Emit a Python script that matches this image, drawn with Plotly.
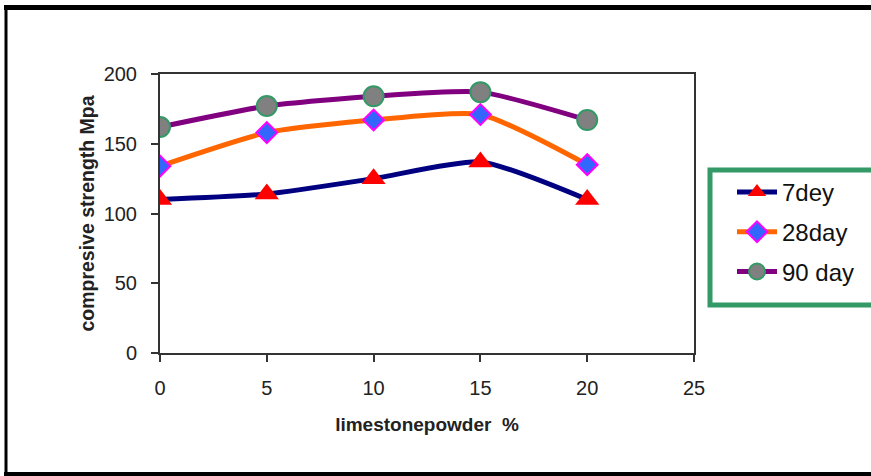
import plotly.graph_objects as go

limestone_pct = [0, 5, 10, 15, 20]
strength_7day = [110, 114, 125, 137, 110]
strength_28day = [134, 158, 167, 171, 135]
strength_90day = [162, 177, 184, 187, 167]
series_names = ["7dey", "28day", "90 day"]
x_ticks = [0, 5, 10, 15, 20, 25]
y_ticks = [0, 50, 100, 150, 200]

# plot area in screen pixels
PL, PR, PT, PB = 160, 694, 74, 353
W, H = 871, 476


def px_x(v):
    return (v - PL) / (PR - PL)


def px_y(v):
    return (PB - v) / (PB - PT)


FONT = "Liberation Sans, Arial"

fig = go.Figure()
fig.add_trace(go.Scatter(
    x=limestone_pct, y=strength_7day, name=series_names[0], mode="lines+markers",
    legendgroup="a",
    line=dict(color="#000080", width=5, shape="spline", smoothing=0.6),
    marker=dict(symbol="triangle-up", size=21, color="#FF0000", line=dict(width=0))))
fig.add_trace(go.Scatter(
    x=limestone_pct, y=strength_28day, name=series_names[1], mode="lines+markers",
    legendgroup="b",
    line=dict(color="#FF6600", width=5, shape="spline", smoothing=0.6),
    marker=dict(symbol="diamond", size=16, color="#3366FF", line=dict(width=2, color="#FF00FF"))))
fig.add_trace(go.Scatter(
    x=limestone_pct, y=strength_90day, name=series_names[2], mode="lines+markers",
    legendgroup="c",
    line=dict(color="#800080", width=5, shape="spline", smoothing=0.6),
    marker=dict(symbol="circle", size=20, color="#808080", line=dict(width=2, color="#339966"))))

axis_font = dict(family=FONT, size=20, color="#222222")
fig.update_layout(
    width=W, height=H,
    margin=dict(l=PL, r=W - PR, t=PT, b=H - PB, autoexpand=False),
    plot_bgcolor="white", paper_bgcolor="white",
    font=dict(family=FONT),
    showlegend=True,
    legend=dict(x=px_x(732), y=px_y(170), xanchor="left", yanchor="top",
                borderwidth=0, bgcolor="rgba(0,0,0,0)",
                font=dict(family=FONT, size=24, color="#111111"),
                itemwidth=40, tracegroupgap=5.5),
    xaxis=dict(range=[0, 25], tickvals=x_ticks, showgrid=False, zeroline=False,
               showline=True, linecolor="#333333", linewidth=2, mirror=True,
               ticks="outside", ticklen=7, tickcolor="#333333", tickwidth=2,
               tickfont=axis_font, ticklabelstandoff=9,
               title=dict(text="<b>limestonepowder  %</b>", standoff=20,
                          font=dict(family=FONT, size=19, color="#222222"))),
    yaxis=dict(range=[0, 200], tickvals=y_ticks, showgrid=False, zeroline=False,
               showline=True, linecolor="#333333", linewidth=2, mirror=True,
               ticks="outside", ticklen=7, tickcolor="#333333", tickwidth=2,
               tickfont=axis_font, ticklabelstandoff=10,
               title=dict(text="<b>compresive strength Mpa</b>", standoff=4,
                          font=dict(family=FONT, size=19.5, color="#222222"))),
)
# legend frame (green)
fig.add_shape(type="rect", xref="paper", yref="paper",
              x0=px_x(710), x1=px_x(890), y0=px_y(305), y1=px_y(170),
              line=dict(color="#339966", width=5), fillcolor="rgba(0,0,0,0)", layer="below")
# outer black frame
fig.add_shape(type="line", xref="paper", yref="paper",
              x0=px_x(4), x1=px_x(900), y0=px_y(7.5), y1=px_y(7.5),
              line=dict(color="black", width=5))
fig.add_shape(type="line", xref="paper", yref="paper",
              x0=px_x(6), x1=px_x(6), y0=px_y(5), y1=px_y(480),
              line=dict(color="black", width=3))
fig.add_shape(type="line", xref="paper", yref="paper",
              x0=px_x(4), x1=px_x(900), y0=px_y(474), y1=px_y(474),
              line=dict(color="black", width=4))
fig.write_html("out.html", config={"displayModeBar": False},
               post_script="document.body.style.margin='0px';")
